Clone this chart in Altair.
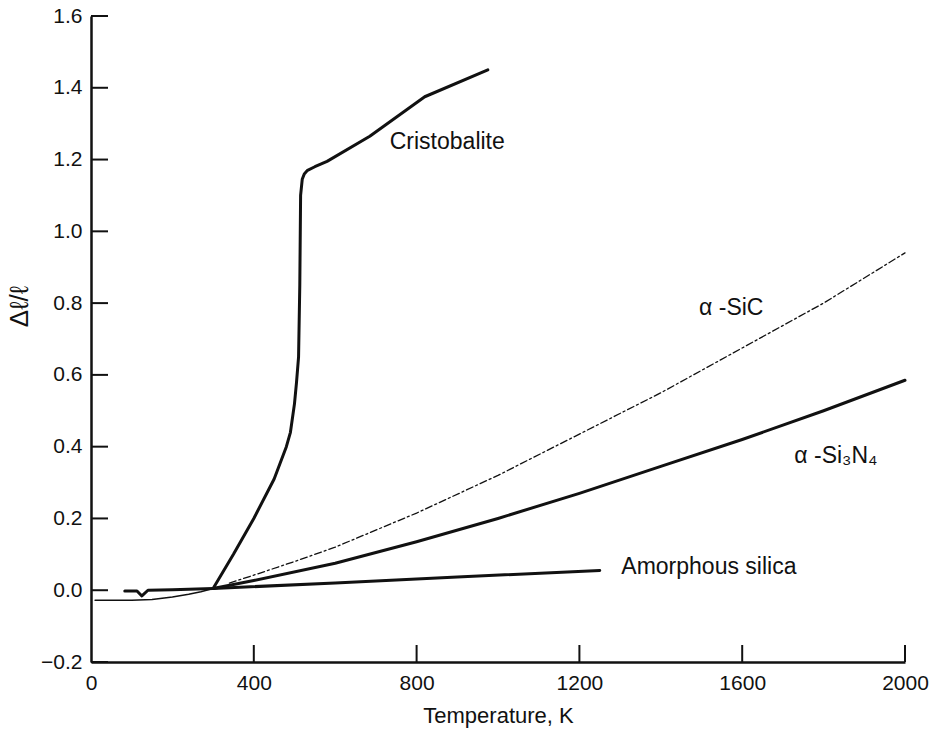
import altair as alt
import pandas as pd

# Axis tick values
temp_ticks = [0, 400, 800, 1200, 1600, 2000]
strain_ticks = [-0.2, 0.0, 0.2, 0.4, 0.6, 0.8, 1.0, 1.2, 1.4, 1.6]

# Thermal expansion curves, temperature (K) vs. delta-l/l (%)
cristobalite_T = [300, 350, 400, 450, 480, 490, 500, 505, 510, 513, 515, 519, 524, 532, 550, 580, 685, 820, 975]
cristobalite_dl = [0.005, 0.10, 0.20, 0.31, 0.40, 0.44, 0.52, 0.58, 0.65, 0.85, 1.10, 1.145, 1.16, 1.17, 1.18, 1.195, 1.265, 1.375, 1.45]

sic_T = [340, 400, 500, 600, 800, 1000, 1200, 1400, 1600, 1800, 2000]
sic_dl = [0.02, 0.042, 0.08, 0.12, 0.215, 0.32, 0.435, 0.55, 0.675, 0.80, 0.94]

si3n4_T = [300, 400, 600, 800, 1000, 1200, 1400, 1600, 1800, 2000]
si3n4_dl = [0.005, 0.027, 0.075, 0.135, 0.20, 0.27, 0.345, 0.42, 0.50, 0.585]

silica_T = [83, 113, 125, 140, 200, 300, 600, 900, 1250]
silica_dl = [-0.002, -0.002, -0.016, 0.0, 0.001, 0.005, 0.02, 0.037, 0.055]

low_T = [10, 100, 150, 200, 240, 270, 300]
low_dl = [-0.028, -0.028, -0.026, -0.019, -0.011, -0.004, 0.005]

# Curve labels and their anchor points
label_text = ["Cristobalite", "\u03b1 -SiC", "\u03b1 -Si\u2083N\u2084", "Amorphous silica"]
label_T = [734, 1494, 1728, 1303]
label_dl = [1.249, 0.787, 0.373, 0.064]

FONT = "Liberation Sans"
INK = "#111111"

x_scale = alt.Scale(domain=[0, 2000], nice=False, zero=False)
y_scale = alt.Scale(domain=[-0.2, 1.6], nice=False, zero=False)

x_axis = alt.Axis(
    values=temp_ticks,
    format="d",
    title="Temperature, K",
    ticks=False,
    grid=False,
    labelFlush=False,
    labelPadding=10,
    titlePadding=12,
)
y_axis = alt.Axis(
    values=strain_ticks,
    format=".1f",
    title="\u0394\u2113/\u2113",
    ticks=False,
    grid=False,
    labelFlush=False,
    labelPadding=9,
    titleAngle=270,
    titleX=-72,
    titleY=290,
    titleAlign="center",
    titleBaseline="middle",
    titleFontSize=26,
)


def X(field):
    return alt.X(field, scale=x_scale, axis=x_axis)


def Y(field):
    return alt.Y(field, scale=y_scale, axis=y_axis)


def curve(T, dl):
    return pd.DataFrame({"T": T, "dl": dl})


def line_layer(df, width, dash=None):
    kw = dict(color=INK, strokeWidth=width, strokeCap="round", strokeJoin="round")
    if dash:
        kw["strokeDash"] = dash
    return alt.Chart(df).mark_line(**kw).encode(x=X("T:Q"), y=Y("dl:Q"), order="T:Q")


# Inward-pointing tick marks
y_ticks = alt.Chart(pd.DataFrame({"dl": strain_ticks})).mark_rule(color=INK, strokeWidth=2).encode(
    y=Y("dl:Q"),
    x=alt.value(0),
    x2=alt.value(17),
)
x_ticks = alt.Chart(pd.DataFrame({"T": temp_ticks[1:]})).mark_rule(color=INK, strokeWidth=2).encode(
    x=X("T:Q"),
    y=alt.value(646),
    y2=alt.value(629),
)

labels = alt.Chart(pd.DataFrame({"label": label_text, "T": label_T, "dl": label_dl})).mark_text(
    align="left", baseline="middle", font=FONT, fontSize=23, color=INK
).encode(x=X("T:Q"), y=Y("dl:Q"), text="label:N")

chart = alt.layer(
    y_ticks,
    x_ticks,
    line_layer(curve(low_T, low_dl), 1.5),
    line_layer(curve(sic_T, sic_dl), 1.3, [7, 3, 2, 3]),
    line_layer(curve(si3n4_T, si3n4_dl), 3),
    line_layer(curve(silica_T, silica_dl), 3),
    line_layer(curve(cristobalite_T, cristobalite_dl), 3),
    labels,
).properties(
    width=814,
    height=646,
    padding={"left": 91, "top": 16, "right": 29, "bottom": 78},
    autosize=alt.AutoSizeParams(type="none"),
    background="white",
).configure_view(
    stroke=None
).configure_axis(
    labelFont=FONT,
    labelFontSize=21,
    labelColor=INK,
    titleFont=FONT,
    titleFontSize=22,
    titleFontWeight="normal",
    titleColor=INK,
    domainColor=INK,
    domainWidth=2.5,
)

chart.save("out.html", embed_options={"renderer": "svg", "actions": False})
